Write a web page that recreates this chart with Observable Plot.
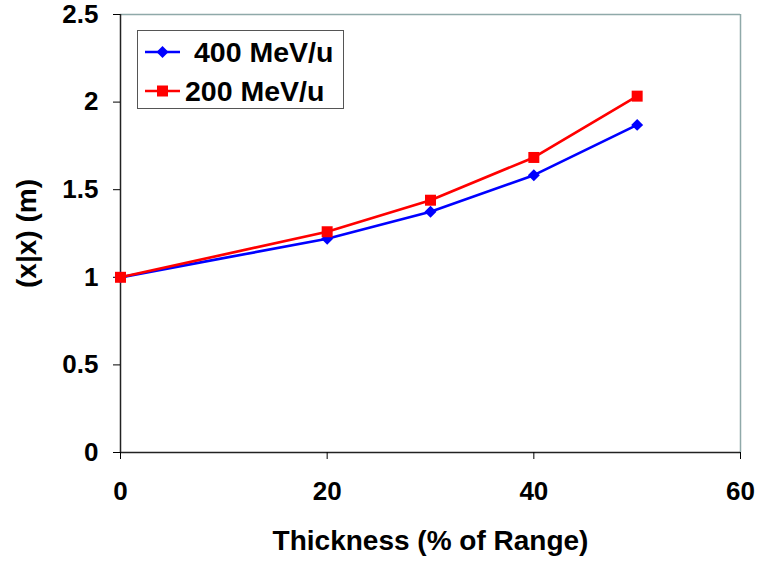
<!DOCTYPE html>
<html>
<head>
<meta charset="utf-8">
<script src="https://cdn.jsdelivr.net/npm/d3@7"></script>
<script src="https://cdn.jsdelivr.net/npm/@observablehq/plot@0.6"></script>
<style>
  body { margin: 0; background: #fff; font-family: "Liberation Sans", Arial, sans-serif; }
  #wrap { position: relative; width: 757px; height: 563px; }
  #wrap svg text { font-weight: bold; }
  #wrap g[aria-label="x-axis label"] text, #wrap g[aria-label="y-axis label"] text { font-size: 28px; }
  #legend { position: absolute; left: 137px; top: 30px; width: 207px; height: 79px; border: 1px solid #555; background: #fff; box-sizing: border-box; }
  #legend svg { position: absolute; left: 0; top: 0; }
</style>
</head>
<body>
<div id="wrap"></div>
<script>
const thickness = [0, 20, 30, 40, 50];
const series400 = [1.0, 1.22, 1.374, 1.583, 1.87];
const series200 = [1.0, 1.26, 1.44, 1.684, 2.034];
const seriesNames = ["400 MeV/u", "200 MeV/u"];
const xTicks = [0, 20, 40, 60];
const yTicks = [0, 0.5, 1, 1.5, 2, 2.5];

const d400 = thickness.map((t, i) => ({x: t, y: series400[i]}));
const d200 = thickness.map((t, i) => ({x: t, y: series200[i]}));

const font = '"Liberation Sans", Arial, sans-serif';

const chart = Plot.plot({
  width: 757,
  height: 563,
  marginLeft: 120,
  marginRight: 17,
  marginTop: 14,
  marginBottom: 111,
  style: {fontFamily: font, fontSize: "26px", color: "#000", background: "#fff"},
  x: {domain: [0, 60]},
  y: {domain: [0, 2.5]},
  marks: [
    Plot.ruleY([2.5], {stroke: "#8fa9a9", strokeWidth: 1.5}),
    Plot.ruleX([60], {stroke: "#8fa9a9", strokeWidth: 1.5}),
    Plot.ruleX([0], {stroke: "#222", strokeWidth: 1.5}),
    Plot.ruleY([0], {stroke: "#222", strokeWidth: 1.5}),
    Plot.axisY({ticks: yTicks, tickSize: 7, tickPadding: 15, tickFormat: d => String(d),
      label: "(x|x) (m)", labelAnchor: "center", labelArrow: "none", labelOffset: 104,
      fontSize: 26}),
    Plot.axisX({ticks: xTicks, tickSize: 7, tickPadding: 22, tickFormat: d => String(d),
      label: "Thickness (% of Range)", labelAnchor: "center", labelArrow: "none", labelOffset: 97,
      fontSize: 26}),
    Plot.line(d400, {x: "x", y: "y", stroke: "#0000ff", strokeWidth: 2.7}),
    Plot.line(d200, {x: "x", y: "y", stroke: "#ff0000", strokeWidth: 2.7}),
    Plot.dot(d400, {x: "x", y: "y", symbol: "diamond2", r: 5.4, fill: "#0000ff", stroke: null}),
    Plot.dot(d200, {x: "x", y: "y", symbol: "square", r: 6.2, fill: "#ff0000", stroke: null})
  ]
});
document.getElementById("wrap").appendChild(chart);

// legend
const legend = document.createElement("div");
legend.id = "legend";
legend.innerHTML = `<svg width="207" height="79" xmlns="http://www.w3.org/2000/svg">
  <line x1="7" x2="42" y1="21" y2="21" stroke="#0000ff" stroke-width="2.7"/>
  <path d="M24.5,15 L30.5,21 L24.5,27 L18.5,21Z" fill="#0000ff"/>
  <text x="56" y="31" font-family='${font}' font-size="28.5">${seriesNames[0]}</text>
  <line x1="7" x2="42" y1="60" y2="60" stroke="#ff0000" stroke-width="2.7"/>
  <rect x="19" y="54.5" width="11" height="11" fill="#ff0000"/>
  <text x="47" y="70" font-family='${font}' font-size="28.5">${seriesNames[1]}</text>
</svg>`;
document.getElementById("wrap").appendChild(legend);
</script>
</body>
</html>
